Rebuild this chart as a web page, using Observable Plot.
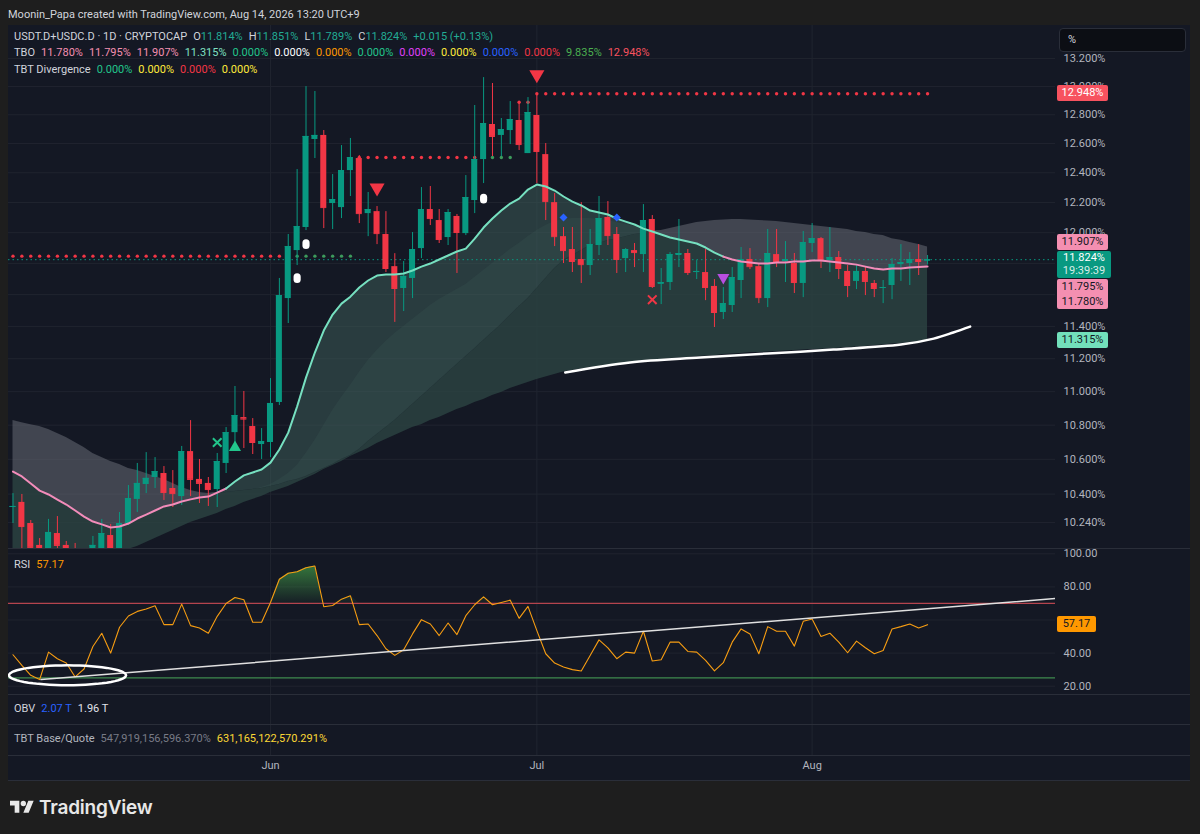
<!DOCTYPE html>
<html>
<head>
<meta charset="utf-8">
<script src="https://cdn.jsdelivr.net/npm/d3@7"></script>
<script src="https://cdn.jsdelivr.net/npm/@observablehq/plot@0.6"></script>
<style>
html,body{margin:0;padding:0}
body{width:1200px;height:834px;background:#1e1e1e;position:relative;overflow:hidden;font-family:Roboto,"Liberation Sans",sans-serif;color:#d1d4dc}
.abs{position:absolute}
.lg{position:absolute;left:14px;font-size:11px;line-height:14px;white-space:nowrap}
.lg .g{margin-right:6px}
.sep{position:absolute;left:8px;width:1182px;height:1px;background:#2a2e39}
.tag{position:absolute;left:1057px;font-size:11px;text-align:center;border-radius:2px;font-family:Roboto,sans-serif}
</style>
</head>
<body>
<div class="abs" style="left:8px;top:25px;width:1182px;height:756px;background:#141824"></div>
<div class="abs" style="left:8px;top:8px;font-size:11px;line-height:14px;color:#d1d4dc;white-space:nowrap">Moonin_Papa created with TradingView.com, Aug 14, 2026 13:20 UTC+9</div>
<div id="main" class="abs" style="left:0;top:25px"></div>
<div id="rsi" class="abs" style="left:0;top:548px"></div>
<div id="obv" class="abs" style="left:0;top:694px"></div>
<div id="tbt" class="abs" style="left:0;top:724px"></div>
<div class="sep" style="top:548px"></div>
<div class="sep" style="top:694px"></div>
<div class="sep" style="top:724px"></div>
<div class="sep" style="top:755px"></div>
<div class="sep" style="top:780px"></div>

<div class="lg" style="top:30px">
<span class="g" style="color:#d1d4dc">USDT.D+USDC.D · 1D · CRYPTOCAP</span><span style="color:#d1d4dc">O</span><span class="g" style="color:#22ab94">11.814%</span><span style="color:#d1d4dc">H</span><span class="g" style="color:#22ab94">11.851%</span><span style="color:#d1d4dc">L</span><span class="g" style="color:#22ab94">11.789%</span><span style="color:#d1d4dc">C</span><span class="g" style="color:#22ab94">11.824%</span><span class="g" style="color:#22ab94">+0.015 (+0.13%)</span>
</div>
<div class="lg" style="top:46px">
<span class="g" style="color:#d1d4dc">TBO</span><span class="g" style="color:#f48fb1">11.780%</span><span class="g" style="color:#f48fb1">11.795%</span><span class="g" style="color:#f48fb1">11.907%</span><span class="g" style="color:#7fe0c2">11.315%</span><span class="g" style="color:#22c58b">0.000%</span><span class="g" style="color:#ffffff">0.000%</span><span class="g" style="color:#ff9800">0.000%</span><span class="g" style="color:#22c58b">0.000%</span><span class="g" style="color:#e040fb">0.000%</span><span class="g" style="color:#ffeb3b">0.000%</span><span class="g" style="color:#2962ff">0.000%</span><span class="g" style="color:#f23645">0.000%</span><span class="g" style="color:#4caf50">9.835%</span><span class="g" style="color:#f7525f">12.948%</span>
</div>
<div class="lg" style="top:63px">
<span class="g" style="color:#d1d4dc">TBT Divergence</span><span class="g" style="color:#22c58b">0.000%</span><span class="g" style="color:#ffeb3b">0.000%</span><span class="g" style="color:#f23645">0.000%</span><span class="g" style="color:#ffeb3b">0.000%</span>
</div>
<div class="lg" style="top:558px"><span class="g" style="color:#d1d4dc">RSI</span><span class="g" style="color:#ff9800">57.17</span></div>
<div class="lg" style="top:702px"><span class="g" style="color:#d1d4dc">OBV</span><span class="g" style="color:#2962ff">2.07 T</span><span class="g" style="color:#e0e3eb">1.96 T</span></div>
<div class="lg" style="top:732px"><span class="g" style="color:#b2b5be">TBT Base/Quote</span><span class="g" style="color:#787b86">547,919,156,596.370%</span><span class="g" style="color:#fdd835">631,165,122,570.291%</span></div>

<div class="abs" style="left:1059px;top:28px;width:125px;height:22px;background:#0c0e14;border:1px solid #2a2e39;border-radius:4px"></div>
<div class="abs" style="left:1068px;top:33px;font-size:11px;line-height:14px;color:#d1d4dc">%</div>

<div class="abs" style="left:10px;top:796px;display:flex;align-items:center">
<svg width="24" height="19" viewBox="0 0 36 28"><path d="M14 22H7V11H0V4h14v18zM28 22h-8l7.5-18h8L28 22z" fill="#e8e8e8"/><circle cx="20" cy="8" r="4" fill="#e8e8e8"/></svg>
<span style="margin-left:5px;font-family:Inter,Roboto,sans-serif;font-weight:600;font-size:19px;color:#e8e8e8;letter-spacing:-0.2px">TradingView</span>
</div>

<script>
// ---------- data (daily candles, May 3 – Aug 14, 2026) ----------
const firstDay = "2026-05-03";
const open = [10.324,10.353,10.234,10.112,10.056,10.178,10.112,10.095,10.067,10.051,
10.067,10.167,10.084,10.234,10.370,10.455,10.495,10.518,10.432,10.386,
10.645,10.484,10.461,10.426,10.576,10.756,10.845,10.792,10.686,10.698,
10.935,11.575,11.883,12.034,12.628,12.656,12.193,12.166,12.415,12.497,
12.126,12.139,11.988,11.779,11.639,11.703,11.896,12.153,12.080,11.968,
12.107,11.994,12.213,12.490,12.732,12.656,12.690,12.760,12.531,12.795,
12.524,12.199,11.974,11.890,11.825,11.786,11.916,12.100,11.988,11.831,
11.883,11.857,12.087,11.665,11.677,11.851,11.864,11.741,11.741,11.652,
11.487,11.531,11.690,11.825,11.779,11.575,11.857,11.812,11.799,11.671,
11.929,11.961,11.818,11.838,11.748,11.684,11.748,11.671,11.639,11.658,
11.792,11.799,11.825,11.814];
const high = [10.403,10.398,10.251,10.150,10.257,10.273,10.134,10.123,10.090,10.162,
10.257,10.229,10.296,10.449,10.576,10.639,10.610,10.558,10.535,10.675,
10.827,10.599,10.495,10.634,10.786,11.031,11.001,10.839,10.780,11.079,
11.703,11.988,12.422,12.999,12.964,12.690,12.388,12.586,12.635,12.518,
12.267,12.173,12.139,11.863,11.812,12.001,12.300,12.307,12.153,12.153,
12.120,12.381,12.865,13.063,13.021,12.774,12.893,12.893,12.921,12.948,
12.600,12.260,12.034,12.034,12.199,12.021,12.240,12.206,12.034,11.896,
11.929,12.186,12.113,11.767,11.870,12.087,11.890,11.818,11.890,11.696,
11.645,11.773,11.903,11.896,11.799,12.021,12.021,11.942,11.864,12.008,
12.060,11.968,12.034,11.877,11.786,11.786,11.779,11.690,11.690,11.831,
11.922,11.870,11.922,11.851];
const low = [10.234,10.073,10.073,10.056,10.040,10.084,10.051,10.051,10.029,10.029,
10.051,10.051,10.056,10.223,10.296,10.403,10.432,10.364,10.324,10.336,
10.386,10.347,10.330,10.324,10.518,10.692,10.663,10.628,10.599,10.610,
10.917,11.418,11.786,12.014,12.497,12.027,12.021,12.093,12.240,12.060,
11.974,11.922,11.741,11.425,11.493,11.575,11.831,12.047,11.929,11.916,
11.735,11.981,12.126,12.327,12.511,12.511,12.593,12.552,12.531,12.327,
12.080,11.909,11.799,11.741,11.671,11.722,11.851,11.916,11.735,11.741,
11.773,11.741,11.639,11.537,11.626,11.773,11.722,11.696,11.562,11.393,
11.443,11.487,11.575,11.760,11.543,11.518,11.773,11.677,11.607,11.581,
11.870,11.767,11.741,11.696,11.581,11.632,11.594,11.581,11.543,11.568,
11.684,11.658,11.722,11.789];
const close = [10.330,10.217,10.101,10.090,10.184,10.112,10.073,10.078,10.051,10.112,
10.178,10.073,10.234,10.375,10.461,10.490,10.529,10.409,10.403,10.645,
10.484,10.461,10.426,10.587,10.756,10.857,10.836,10.698,10.704,10.929,
11.594,11.909,12.040,12.649,12.656,12.166,12.220,12.415,12.504,12.126,
12.153,11.994,11.767,11.639,11.716,11.890,12.153,12.093,11.955,12.133,
12.001,12.233,12.490,12.739,12.649,12.697,12.767,12.593,12.816,12.545,
12.206,11.974,11.883,11.812,11.792,11.922,12.093,11.981,11.825,11.890,
11.870,12.080,11.652,11.677,11.857,11.864,11.741,11.748,11.645,11.487,
11.543,11.709,11.825,11.779,11.581,11.864,11.812,11.825,11.677,11.935,
11.961,11.818,11.838,11.767,11.658,11.748,11.684,11.639,11.645,11.792,
11.805,11.825,11.812,11.824];

// TBO lines: fast, medium, medium-long, slow
const tboFast = [10.529,10.501,10.461,10.420,10.398,10.369,10.341,10.307,10.273,10.245,
10.229,10.212,10.217,10.234,10.262,10.284,10.307,10.330,10.341,10.358,
10.370,10.381,10.386,10.409,10.432,10.472,10.507,10.524,10.541,10.581,
10.657,10.756,10.911,11.085,11.238,11.374,11.474,11.543,11.587,11.645,
11.690,11.722,11.728,11.728,11.735,11.754,11.779,11.799,11.825,11.851,
11.877,11.896,11.961,12.034,12.093,12.146,12.193,12.226,12.287,12.320,
12.307,12.280,12.240,12.206,12.180,12.146,12.133,12.120,12.093,12.073,
12.054,12.027,12.008,11.988,11.968,11.955,11.942,11.929,11.903,11.870,
11.844,11.825,11.812,11.805,11.799,11.799,11.805,11.805,11.812,11.812,
11.818,11.818,11.812,11.805,11.799,11.792,11.779,11.767,11.760,11.767,
11.767,11.773,11.776,11.780];
const tboMedium = [10.581,10.558,10.535,10.507,10.478,10.449,10.420,10.392,10.364,10.336,
10.313,10.290,10.273,10.268,10.273,10.285,10.302,10.319,10.330,10.341,
10.353,10.364,10.375,10.386,10.398,10.409,10.420,10.426,10.438,10.455,
10.484,10.518,10.564,10.634,10.710,10.798,10.887,10.965,11.037,11.116,
11.189,11.250,11.306,11.356,11.399,11.443,11.487,11.531,11.569,11.600,
11.632,11.665,11.709,11.754,11.799,11.844,11.890,11.929,11.974,12.014,
12.047,12.073,12.087,12.093,12.093,12.093,12.087,12.080,12.067,12.054,
12.040,12.027,12.014,11.994,11.974,11.961,11.948,11.935,11.916,11.890,
11.864,11.844,11.831,11.825,11.818,11.815,11.812,11.812,11.812,11.812,
11.812,11.812,11.809,11.805,11.802,11.799,11.800,11.798,11.797,11.796,
11.795,11.795,11.795,11.795];
const tboMedLong = [10.827,10.815,10.803,10.792,10.774,10.751,10.727,10.698,10.669,10.634,
10.610,10.587,10.570,10.547,10.535,10.518,10.501,10.484,10.461,10.438,
10.420,10.409,10.403,10.403,10.409,10.415,10.420,10.426,10.432,10.444,
10.455,10.472,10.484,10.501,10.524,10.547,10.570,10.599,10.622,10.657,
10.704,10.745,10.786,10.827,10.875,10.923,10.971,11.019,11.067,11.116,
11.164,11.213,11.262,11.312,11.362,11.412,11.468,11.524,11.575,11.639,
11.703,11.767,11.818,11.851,11.883,11.916,11.929,11.948,11.961,11.974,
11.988,11.994,12.001,12.014,12.027,12.040,12.054,12.067,12.073,12.080,
12.083,12.087,12.087,12.083,12.080,12.077,12.073,12.067,12.060,12.054,
12.047,12.040,12.034,12.027,12.021,12.008,12.001,11.988,11.981,11.960,
11.950,11.935,11.922,11.907];
const tboSlow = [10.030,10.033,10.036,10.039,10.042,10.045,10.049,10.052,10.056,10.060,
10.064,10.068,10.073,10.090,10.106,10.128,10.150,10.173,10.195,10.217,
10.240,10.257,10.273,10.290,10.313,10.330,10.353,10.370,10.386,10.409,
10.426,10.443,10.466,10.490,10.512,10.541,10.564,10.587,10.616,10.639,
10.663,10.692,10.716,10.739,10.762,10.786,10.803,10.827,10.845,10.869,
10.893,10.911,10.935,10.953,10.977,10.995,11.019,11.037,11.055,11.073,
11.088,11.104,11.119,11.128,11.137,11.146,11.152,11.158,11.164,11.170,
11.177,11.183,11.189,11.195,11.201,11.204,11.207,11.213,11.216,11.219,
11.226,11.229,11.232,11.238,11.238,11.241,11.244,11.247,11.250,11.253,
11.256,11.259,11.262,11.265,11.269,11.272,11.275,11.281,11.284,11.290,
11.293,11.300,11.306,11.315];
const bullFrom = 24, bullTo = 80; // fast line trend (mint) range, candle indices

// RSI (14)
const rsiValues = [39.0,32.6,26.6,24.0,40.6,36.6,34.0,25.6,30.4,44.0,
52.0,40.0,55.6,62.4,65.2,66.6,68.6,57.2,57.2,69.6,
56.6,55.2,52.0,62.2,70.0,73.6,72.2,58.6,58.6,70.6,
84.6,88.2,89.2,91.6,92.6,68.0,68.8,72.6,74.6,57.2,
57.6,50.6,42.6,38.6,42.0,51.6,60.2,57.6,50.6,58.2,
51.2,62.6,69.2,74.0,69.2,70.6,72.0,61.0,68.2,53.6,
39.6,34.0,31.6,30.0,29.2,38.6,48.0,43.2,36.6,40.6,
40.0,53.2,35.2,36.0,46.6,46.6,41.0,40.6,35.6,29.2,
34.2,46.6,54.6,51.6,39.6,56.0,53.2,53.2,44.2,59.2,
60.6,50.0,52.0,46.6,40.2,47.2,43.2,39.6,41.6,54.6,
56.0,57.6,55.2,57.17];
const rsiUpper = 70, rsiLower = 25;

// TBO support / resistance dotted levels (candle index ranges)
const levelFrom  = [0, 32, 39, 54, 57, 59];
const levelTo    = [30, 38, 52, 56, 58, 103];
const levelValue = [11.847, 11.847, 12.504, 12.504, 12.888, 12.948];
const levelKind  = ["res", "sup", "res", "sup", "res", "res"];

// signal markers (candle index, price)
const shortSigK = [41, 59],  shortSigV = [12.298, 13.085];
const pillK = [32, 33, 53],  pillV = [11.705, 11.925, 12.226];
const tpLongK = [23],        tpLongV = [10.698];
const longSigK = [25],       longSigV = [10.669];
const diamondK = [62, 68],   diamondV = [12.100, 12.100];
const tpShortK = [72],       tpShortV = [11.568];
const divK = [80],           divV = [11.709];

// hand-drawn annotations (day offset, value)
const curveK = [62.2, 69.5, 77.4, 85.0, 92.4, 100.0, 103.7, 105.9, 107.8];
const curveV = [11.116, 11.177, 11.207, 11.232, 11.256, 11.287, 11.324, 11.362, 11.399];
const rsiTrendK = [3.16, 117.5], rsiTrendV = [24.0, 73.0];
const ellipseCenterK = 6.14, ellipseCenterV = 26.6, ellipseRadiusDays = 6.59, ellipseRadiusRsi = 6.0;

const priceTicks = [13.2, 13.0, 12.8, 12.6, 12.4, 12.2, 12.0, 11.4, 11.2, 11.0, 10.8, 10.6, 10.4, 10.24];
const priceGrid = [13.2, 13.0, 12.8, 12.6, 12.4, 12.2, 12.0, 11.8, 11.6, 11.4, 11.2, 11.0, 10.8, 10.6, 10.4, 10.24];
const rsiTicks = [100, 80, 60, 40, 20];
const monthTicks = ["2026-06-01", "2026-07-01", "2026-08-01"].map(d => new Date(d + "T00:00Z"));

// ---------- build ----------
const DAY = 864e5;
const t0 = +new Date(firstDay + "T00:00Z");
const kDate = k => new Date(t0 + k * DAY);
const xDomain = [kDate(-0.507), kDate(117.41)];
const W = 1200, ML = 8, MR = 145;
const GRID = "#20242f";
const UP = "#089981", DN = "#f23645", PINK = "#f28cba", MINT = "#76e0c0";
const baseStyle = {background: "transparent", color: "#b2b5be", fontFamily: "Roboto, sans-serif", fontSize: "11px"};

const candles = open.map((o, i) => ({date: kDate(i), o, h: high[i], l: low[i], c: close[i]}));
const col = d => d.c >= d.o ? UP : DN;
const half = 0.34 * DAY;
const bands = open.map((_, i) => ({date: kDate(i), fast: tboFast[i], mid: tboMedium[i], ml: tboMedLong[i], slow: tboSlow[i]}));

const levelDots = [];
levelFrom.forEach((a, j) => { for (let i = a; i <= levelTo[j]; i++) levelDots.push({date: kDate(i), value: levelValue[j], kind: levelKind[j]}); });
const pts = (K, V) => K.map((k, i) => ({date: kDate(k), v: V[i]}));

const pill = {draw(ctx, size) {
  const h = Math.sqrt(size), r = h * 0.36;
  ctx.moveTo(-r, -h / 2 + r); ctx.arc(0, -h / 2 + r, r, Math.PI, 2 * Math.PI);
  ctx.lineTo(r, h / 2 - r); ctx.arc(0, h / 2 - r, r, 0, Math.PI); ctx.closePath();
}};

const main = Plot.plot({
  width: W, height: 523, marginLeft: ML, marginRight: MR, marginTop: 0, marginBottom: 0,
  style: baseStyle,
  x: {type: "utc", domain: xDomain, axis: null},
  y: {type: "log", domain: [10.095, 13.441]},
  marks: [
    Plot.ruleY(priceGrid, {stroke: GRID}),
    Plot.ruleX(monthTicks, {stroke: GRID}),
    Plot.areaY(bands, {x: "date", y1: "slow", y2: d => Math.min(d.fast, d.ml), fill: "#2d4744", fillOpacity: 0.75, clip: true}),
    Plot.areaY(bands, {x: "date", y1: "ml", y2: d => Math.max(d.fast, d.ml), fill: "#3d5f5a", fillOpacity: 0.5, clip: true}),
    Plot.areaY(bands, {x: "date", y1: "ml", y2: d => Math.max(d.mid, d.ml), fill: "#4a6e68", fillOpacity: 0.15, clip: true}),
    Plot.areaY(bands, {x: "date", y1: "fast", y2: d => Math.max(d.fast, d.ml), fill: "#6e727c", fillOpacity: 0.5, clip: true}),
    Plot.ruleY([close[close.length - 1]], {stroke: UP, strokeDasharray: "1.5,3", strokeWidth: 1}),
    Plot.dot(levelDots, {x: "date", y: "value", r: 1.7, fill: d => d.kind === "res" ? "#f23645" : "#3d9a5c", stroke: null}),
    Plot.ruleX(candles, {x: "date", y1: "l", y2: "h", stroke: col, strokeWidth: 1, clip: true}),
    Plot.rect(candles, {x1: d => new Date(+d.date - half), x2: d => new Date(+d.date + half), y1: "o", y2: "c", fill: col, clip: true}),
    Plot.ruleY(candles, {y: "c", x1: d => new Date(+d.date - half), x2: d => new Date(+d.date + half), stroke: col, strokeWidth: 1, clip: true}),
    Plot.line(bands.slice(0, bullFrom + 1), {x: "date", y: "fast", stroke: PINK, strokeWidth: 2, clip: true}),
    Plot.line(bands.slice(bullFrom, bullTo + 1), {x: "date", y: "fast", stroke: MINT, strokeWidth: 2, clip: true}),
    Plot.line(bands.slice(bullTo), {x: "date", y: "fast", stroke: PINK, strokeWidth: 2, clip: true}),
    Plot.dot(pts(shortSigK, shortSigV), {x: "date", y: "v", symbol: "triangle", rotate: 180, r: 5.6, fill: "#f23645", stroke: null}),
    Plot.dot(pts(pillK, pillV), {x: "date", y: "v", symbol: pill, r: 5.6, fill: "#ffffff", stroke: null}),
    Plot.dot(pts(tpLongK, tpLongV), {x: "date", y: "v", symbol: "times", r: 4, stroke: "#22c58b", strokeWidth: 2}),
    Plot.dot(pts(longSigK, longSigV), {x: "date", y: "v", symbol: "triangle", r: 4.5, fill: "#22c58b", stroke: null}),
    Plot.dot(pts(diamondK, diamondV), {x: "date", y: "v", symbol: "square", rotate: 45, r: 3.2, fill: "#2962ff", stroke: null}),
    Plot.dot(pts(tpShortK, tpShortV), {x: "date", y: "v", symbol: "times", r: 4, stroke: "#f23645", strokeWidth: 2}),
    Plot.dot(pts(divK, divV), {x: "date", y: "v", symbol: "triangle", rotate: 180, r: 4.5, fill: "#b84ee0", stroke: null}),
    Plot.line(pts(curveK, curveV), {x: "date", y: "v", curve: "catmull-rom", stroke: "#ffffff", strokeWidth: 2.5}),
    Plot.axisY({anchor: "right", ticks: priceTicks, tickFormat: d => d.toFixed(3) + "%", tickSize: 0, tickPadding: 8, label: null})
  ]
});
document.getElementById("main").append(main);

const rsiData = rsiValues.map((v, i) => ({date: kDate(i), v}));
const ellipse = d3.range(0, 361, 6).map(a => {
  const t = a * Math.PI / 180;
  return {date: kDate(ellipseCenterK + ellipseRadiusDays * Math.cos(t)), v: ellipseCenterV + ellipseRadiusRsi * Math.sin(t)};
});
const rsi = Plot.plot({
  width: W, height: 146, marginLeft: ML, marginRight: MR, marginTop: 0, marginBottom: 0,
  style: baseStyle,
  x: {type: "utc", domain: xDomain, axis: null},
  y: {domain: [14.98, 103.2]},
  marks: [
    Plot.ruleY(rsiTicks, {stroke: GRID}),
    Plot.ruleX(monthTicks, {stroke: GRID}),
    Plot.areaY(rsiData, {x: "date", y1: () => rsiUpper, y2: d => Math.max(d.v, rsiUpper), fill: "url(#rsiOB)"}),
    Plot.areaY(rsiData, {x: "date", y1: () => rsiLower, y2: d => Math.min(d.v, rsiLower), fill: "url(#rsiOS)"}),
    Plot.ruleY([rsiUpper], {stroke: "#b5444e", strokeWidth: 1.2}),
    Plot.ruleY([rsiLower], {stroke: "#3e8a4e", strokeWidth: 1.2}),
    Plot.line(rsiData, {x: "date", y: "v", stroke: "#f79d12", strokeWidth: 1.1}),
    Plot.line(pts(rsiTrendK, rsiTrendV), {x: "date", y: "v", stroke: "#e0e0e0", strokeWidth: 1.5, clip: true}),
    Plot.line(ellipse, {x: "date", y: "v", stroke: "#ffffff", strokeWidth: 2.5, clip: true}),
    Plot.axisY({anchor: "right", ticks: rsiTicks, tickFormat: d => d.toFixed(2), tickSize: 0, tickPadding: 8, label: null})
  ]
});
(function addDefs() {
  const ns = "http://www.w3.org/2000/svg", ry = rsi.scale("y");
  const defs = document.createElementNS(ns, "defs");
  const mk = (id, y1, y2, color, o1, o2) => {
    const g = document.createElementNS(ns, "linearGradient");
    g.setAttribute("id", id); g.setAttribute("gradientUnits", "userSpaceOnUse");
    g.setAttribute("x1", 0); g.setAttribute("x2", 0); g.setAttribute("y1", y1); g.setAttribute("y2", y2);
    [[0, o1], [1, o2]].forEach(([off, op]) => {
      const s = document.createElementNS(ns, "stop");
      s.setAttribute("offset", off); s.setAttribute("stop-color", color); s.setAttribute("stop-opacity", op);
      g.appendChild(s);
    });
    defs.appendChild(g);
  };
  mk("rsiOB", ry.apply(100), ry.apply(rsiUpper), "#43a047", 0.9, 0.05);
  mk("rsiOS", ry.apply(rsiLower), ry.apply(0), "#f23645", 0.05, 0.9);
  rsi.insertBefore(defs, rsi.firstChild);
})();
document.getElementById("rsi").append(rsi);

const obv = Plot.plot({
  width: W, height: 30, marginLeft: ML, marginRight: MR, marginTop: 0, marginBottom: 0,
  style: baseStyle, x: {type: "utc", domain: xDomain, axis: null},
  marks: [Plot.ruleX(monthTicks, {stroke: GRID})]
});
document.getElementById("obv").append(obv);

const tbt = Plot.plot({
  width: W, height: 57, marginLeft: ML, marginRight: MR, marginTop: 0, marginBottom: 26,
  style: baseStyle, x: {type: "utc", domain: xDomain, axis: null},
  marks: [
    Plot.ruleX(monthTicks, {stroke: GRID}),
    Plot.text(monthTicks, {x: d => d, frameAnchor: "bottom", dy: 13, text: d => d3.utcFormat("%b")(d), fill: "#b2b5be", fontSize: 11})
  ]
});
document.getElementById("tbt").append(tbt);

// ---------- price-scale labels ----------
const ym = main.scale("y"), ryS = rsi.scale("y");
const py = v => 25 + ym.apply(v);
function tag(html, top, h, bg, fg, w = 51, lh = h) {
  const d = document.createElement("div");
  d.className = "tag";
  Object.assign(d.style, {top: top + "px", height: h + "px", width: w + "px", background: bg, color: fg, lineHeight: lh + "px"});
  d.innerHTML = html;
  document.body.appendChild(d);
}
const lastClose = close[close.length - 1];
const gTop = Math.round(py(lastClose) - 8);
tag("12.948%", Math.round(py(levelValue[levelValue.length - 1]) - 8), 16, "#f7525f", "#ffffff");
tag(tboMedLong[103].toFixed(3) + "%", gTop - 17, 16, "#f48fb1", "#131722");
tag(lastClose.toFixed(3) + '%<br><span style="color:rgba(255,255,255,0.85)">19:39:39</span>', gTop, 27, "#089981", "#ffffff", 54, 13);
tag(tboMedium[103].toFixed(3) + "%<br>" + tboFast[103].toFixed(3) + "%", gTop + 28, 30, "#f48fb1", "#131722", 51, 15);
tag(tboSlow[103].toFixed(3) + "%", Math.round(py(tboSlow[103]) - 8), 16, "#72e0bb", "#131722");
tag(rsiValues[103].toFixed(2), Math.round(548 + ryS.apply(rsiValues[103]) - 8), 16, "#ff9800", "#131722", 39);
</script>
</body>
</html>
